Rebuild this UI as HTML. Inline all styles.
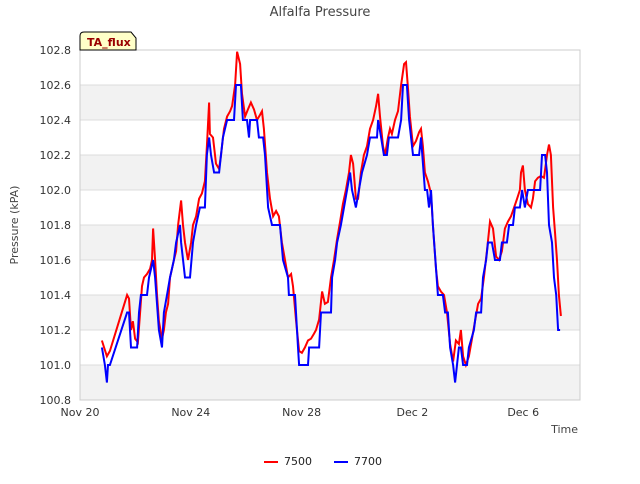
<!DOCTYPE html>
<html><head><meta charset="utf-8"><style>
body{margin:0;background:#fff;font-family:"DejaVu Sans","Liberation Sans",sans-serif}
svg text{font-family:"DejaVu Sans","Liberation Sans",sans-serif}
</style></head><body>
<svg id="chart" width="640" height="480" xmlns="http://www.w3.org/2000/svg">
<text x="320" y="16" text-anchor="middle" font-size="13" fill="#444">Alfalfa Pressure</text>
<g id="bands"></g>
<g id="grid"></g>
<rect x="80" y="50" width="500" height="350" fill="none" stroke="#ccc"/>
<g id="yticks"></g><g id="xticks"></g>
<text transform="translate(18,225) rotate(-90)" text-anchor="middle" font-size="11" fill="#444">Pressure (kPA)</text>
<text x="578" y="433" text-anchor="end" font-size="11" fill="#444">Time</text>
<g id="series"></g>
<g>
<path d="M80,50 L80,36 Q80,32 84,32 L131,32 L136,38 L136,50 Z" fill="#ffffc8" stroke="#000"/>
<text x="87" y="46" font-size="11" font-weight="bold" fill="#900">TA_flux</text></g>
<g>
<line x1="264" y1="462" x2="278" y2="462" stroke="red" stroke-width="2"/>
<text x="284" y="465" font-size="11" fill="#222">7500</text>
<line x1="334" y1="462" x2="348" y2="462" stroke="blue" stroke-width="2"/>
<text x="354" y="465" font-size="11" fill="#222">7700</text>
</g>
</svg>
<script>
const yTicks=[100.8,101.0,101.2,101.4,101.6,101.8,102.0,102.2,102.4,102.6,102.8];
const xTickDays=[0,4,8,12,16];
const xTickLabels=["Nov 20","Nov 24","Nov 28","Dec 2","Dec 6"];
const redDays=[0.79,0.87,0.97,1.08,1.70,1.77,1.84,1.91,1.99,2.09,2.17,2.24,2.31,2.42,2.53,2.60,2.64,2.71,2.78,2.85,2.96,3.03,3.10,3.18,3.25,3.32,3.39,3.47,3.54,3.65,3.72,3.79,3.90,4.01,4.08,4.19,4.30,4.40,4.51,4.58,4.66,4.69,4.80,4.91,5.02,5.09,5.20,5.31,5.42,5.49,5.60,5.67,5.78,5.85,5.96,6.06,6.17,6.28,6.39,6.50,6.57,6.64,6.75,6.86,6.97,7.08,7.18,7.29,7.40,7.51,7.62,7.69,7.80,7.91,8.01,8.12,8.23,8.34,8.45,8.52,8.63,8.74,8.84,8.95,9.06,9.17,9.28,9.39,9.49,9.60,9.71,9.78,9.86,9.96,10.04,10.14,10.25,10.36,10.47,10.58,10.69,10.76,10.83,10.94,11.01,11.12,11.19,11.26,11.37,11.48,11.59,11.70,11.77,11.84,11.91,12.02,12.13,12.24,12.31,12.38,12.45,12.56,12.67,12.74,12.85,12.92,13.03,13.14,13.25,13.36,13.47,13.57,13.68,13.75,13.83,13.93,14.04,14.15,14.26,14.37,14.48,14.58,14.69,14.80,14.91,15.02,15.13,15.23,15.34,15.45,15.56,15.67,15.78,15.88,15.92,15.99,16.06,16.17,16.28,16.35,16.43,16.53,16.64,16.75,16.86,16.93,17.00,17.08,17.15,17.22,17.29,17.36];
const redValues=[101.14,101.1,101.05,101.08,101.40,101.38,101.2,101.25,101.15,101.13,101.3,101.45,101.5,101.52,101.55,101.6,101.78,101.6,101.4,101.25,101.15,101.2,101.3,101.35,101.5,101.55,101.6,101.65,101.8,101.94,101.8,101.7,101.6,101.7,101.8,101.85,101.95,101.98,102.05,102.25,102.50,102.32,102.30,102.15,102.12,102.2,102.35,102.42,102.45,102.48,102.6,102.79,102.72,102.55,102.42,102.46,102.50,102.46,102.40,102.43,102.45,102.35,102.1,101.95,101.85,101.88,101.85,101.7,101.6,101.5,101.52,101.45,101.25,101.08,101.07,101.1,101.14,101.15,101.18,101.2,101.26,101.42,101.35,101.36,101.5,101.6,101.72,101.82,101.92,102.0,102.1,102.2,102.15,101.95,101.95,102.1,102.2,102.25,102.35,102.4,102.48,102.55,102.42,102.25,102.2,102.3,102.35,102.32,102.4,102.45,102.6,102.72,102.73,102.58,102.42,102.25,102.28,102.33,102.35,102.25,102.1,102.05,101.98,101.8,101.55,101.45,101.42,101.4,101.3,101.12,101.02,101.14,101.12,101.2,101.05,101.0,101.05,101.15,101.25,101.35,101.38,101.5,101.65,101.82,101.78,101.62,101.6,101.65,101.78,101.82,101.85,101.9,101.95,102.0,102.1,102.14,102.0,101.92,101.9,101.95,102.05,102.07,102.08,102.07,102.2,102.26,102.2,101.9,101.75,101.6,101.4,101.28];
const blueDays=[0.79,0.90,0.97,1.01,1.08,1.70,1.77,1.84,2.06,2.13,2.20,2.42,2.49,2.64,2.71,2.85,2.96,3.03,3.14,3.25,3.39,3.47,3.61,3.65,3.79,3.97,4.08,4.19,4.33,4.51,4.58,4.66,4.73,4.84,5.02,5.09,5.16,5.31,5.56,5.63,5.81,5.88,6.03,6.10,6.14,6.39,6.46,6.61,6.68,6.79,6.93,7.22,7.33,7.51,7.54,7.76,7.87,7.91,8.23,8.27,8.63,8.70,9.06,9.10,9.21,9.28,9.42,9.53,9.75,9.82,9.96,10.07,10.18,10.36,10.47,10.72,10.76,10.87,10.97,11.08,11.15,11.48,11.59,11.66,11.80,11.88,12.02,12.24,12.31,12.45,12.53,12.60,12.67,12.74,12.92,13.10,13.18,13.28,13.36,13.47,13.54,13.61,13.68,13.75,13.83,13.97,14.04,14.22,14.30,14.48,14.55,14.66,14.73,14.87,14.98,15.16,15.23,15.41,15.49,15.63,15.70,15.88,15.96,16.06,16.17,16.61,16.68,16.79,16.86,16.93,17.04,17.11,17.19,17.26,17.33];
const blueValues=[101.1,101.0,100.9,101.0,101.0,101.3,101.3,101.1,101.1,101.3,101.4,101.4,101.5,101.6,101.5,101.2,101.1,101.3,101.4,101.5,101.6,101.7,101.8,101.7,101.5,101.5,101.7,101.8,101.9,101.9,102.2,102.3,102.2,102.1,102.1,102.2,102.3,102.4,102.4,102.6,102.6,102.4,102.4,102.3,102.4,102.4,102.3,102.3,102.2,101.9,101.8,101.8,101.6,101.5,101.4,101.4,101.1,101.0,101.0,101.1,101.1,101.3,101.3,101.5,101.6,101.7,101.8,101.9,102.1,102.0,101.9,102.0,102.1,102.2,102.3,102.3,102.4,102.3,102.2,102.2,102.3,102.3,102.4,102.6,102.6,102.4,102.2,102.2,102.3,102.0,102.0,101.9,102.0,101.8,101.4,101.4,101.3,101.3,101.1,101.0,100.9,101.0,101.1,101.1,101.0,101.0,101.1,101.2,101.3,101.3,101.5,101.6,101.7,101.7,101.6,101.6,101.7,101.7,101.8,101.8,101.9,101.9,102.0,101.9,102.0,102.0,102.2,102.2,102.1,101.8,101.7,101.5,101.4,101.2,101.2];

const NS="http://www.w3.org/2000/svg";
const X0=80,X1=580,Y0=50,Y1=400,D0=0,D1=18.05,V0=100.8,V1=102.8;
function xs(d){return X0+(d-D0)/(D1-D0)*(X1-X0);}
function ys(v){return Y1-(v-V0)/(V1-V0)*(Y1-Y0);}
function mk(tag,attrs,parent){const e=document.createElementNS(NS,tag);for(const k in attrs)e.setAttribute(k,attrs[k]);document.getElementById(parent).appendChild(e);return e;}
for(let i=0;i<yTicks.length-1;i++){
  if(i%2===0){const r=mk('rect',{x:X0,y:ys(yTicks[i+1]),width:X1-X0,height:ys(yTicks[i])-ys(yTicks[i+1]),fill:'#f2f2f2'},'bands');
  
  }
}
yTicks.forEach(v=>{
  const l=mk('line',{x1:X0,x2:X1,y1:ys(v),y2:ys(v),stroke:'#dcdcdc'},'grid');
  
  
  const t=mk('text',{x:X0-9,y:ys(v)+4,'text-anchor':'end','font-size':'11',fill:'#333'},'yticks');
  
  
  t.textContent=v.toFixed(1);
});
xTickDays.forEach((d,i)=>{
  const t=mk('text',{x:xs(d),y:Y1+16,'text-anchor':'middle','font-size':'11',fill:'#333'},'xticks');
  
  
  t.textContent=xTickLabels[i];
});
function pts(ds,vs){return ds.map((d,i)=>xs(d).toFixed(1)+','+ys(vs[i]).toFixed(1)).join(' ');}
const r=mk('polyline',{points:pts(redDays,redValues),fill:'none',stroke:'red','stroke-width':2},'series');


const b=mk('polyline',{points:pts(blueDays,blueValues),fill:'none',stroke:'blue','stroke-width':2},'series');


</script>
</body></html>
